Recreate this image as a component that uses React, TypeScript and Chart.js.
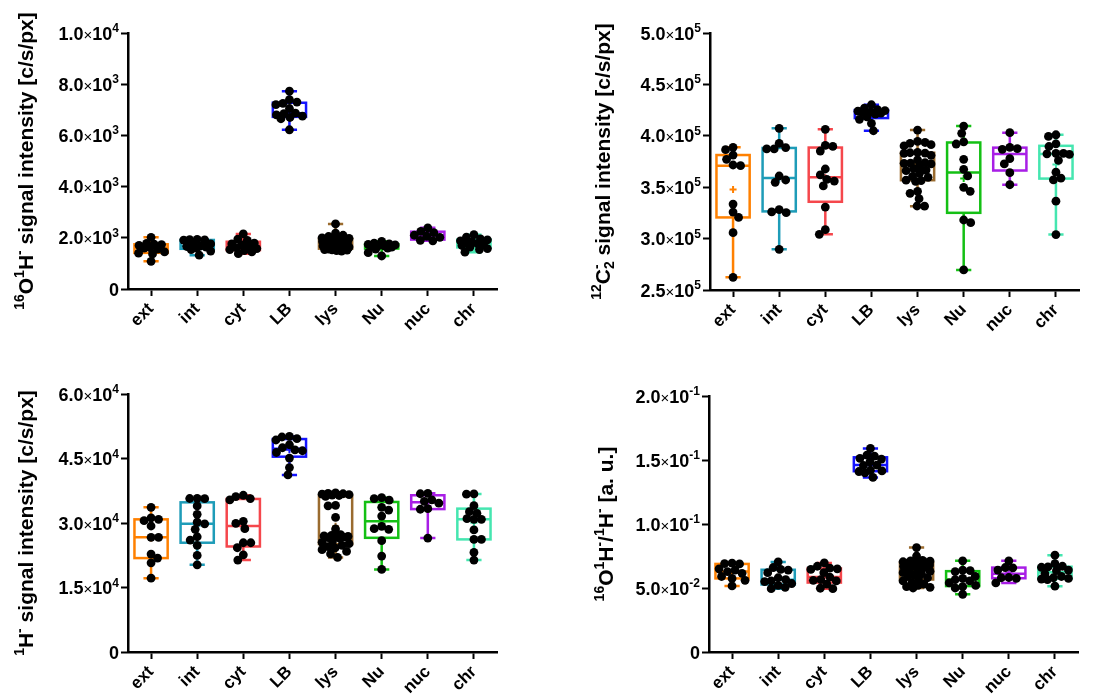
import { useEffect, useRef } from 'react';
import { Chart, registerables } from 'chart.js';

Chart.register(...registerables);

// Cell compartments shown on every panel
const CATEGORIES = ['ext', 'int', 'cyt', 'LB', 'lys', 'Nu', 'nuc', 'chr'];
const GROUP_COLORS = ['#FF8000', '#1E9CB8', '#F5474C', '#1414FF', '#9A6B2F', '#14C014', '#A81EE6', '#45E6B0'];

// 16O1H- signal intensity [c/s/px], one list per compartment
const OH_SIGNAL = [
  [2020, 1780, 1750, 1735, 1700, 1620, 1600, 1560, 1450, 1400, 1370, 1080],
  [1940, 1930, 1920, 1910, 1760, 1720, 1680, 1660, 1640, 1600, 1540, 1480, 1320],
  [2150, 1950, 1900, 1790, 1760, 1720, 1660, 1620, 1580, 1540, 1500, 1450, 1380],
  [7727, 7400, 7300, 7250, 7200, 7050, 6870, 6850, 6800, 6750, 6700, 6650, 6220],
  [2540, 2180, 2100, 2050, 2000, 1980, 1960, 1950, 1940, 1920, 1900, 1880, 1860, 1840, 1820,
   1800, 1780, 1760, 1720, 1680, 1640, 1600, 1580, 1560, 1550, 1540, 1530, 1520, 1500, 1480],
  [1860, 1790, 1760, 1740, 1720, 1700, 1680, 1660, 1640, 1600, 1560, 1420, 1290],
  [2390, 2250, 2200, 2100, 2060, 2020, 1900, 1880],
  [2120, 2030, 1960, 1920, 1880, 1840, 1800, 1770, 1740, 1700, 1640, 1580, 1540, 1440],
];

// 12C2- signal intensity [c/s/px]
const C2_SIGNAL = [
  [388800, 386500, 381300, 377100, 371600, 370900, 333600, 325800, 320600, 305800, 262300],
  [407300, 392700, 388500, 387200, 387200, 360900, 357000, 354700, 328100, 325900, 325200, 289600],
  [406300, 390700, 389700, 385200, 367700, 361900, 357700, 356000, 351200, 330700, 308700, 304200],
  [430200, 427000, 425500, 424500, 424000, 423000, 422500, 422000, 421000, 418500, 416000, 412000, 404900],
  [405600, 394600, 393500, 392700, 391400, 390100, 383800, 383500, 383200, 383000, 381000, 376500,
   374000, 373500, 373200, 372600, 370500, 368000, 366700, 366100, 363500, 360500, 359600, 356300,
   356800, 355700, 346000, 344000, 338800, 331700, 331500],
  [409500, 402400, 394000, 392000, 377100, 367400, 361000, 349900, 346000, 318100, 315500, 269500],
  [403000, 388800, 387500, 386800, 377700, 372600, 364100, 352400],
  [401000, 399400, 392200, 389600, 383000, 383000, 382500, 382000, 376000, 364600, 358800, 357100, 336400, 303900],
];

// 1H- signal intensity [c/s/px]
const H_SIGNAL = [
  [33650, 31200, 30850, 30540, 29300, 26660, 26660, 22770, 21840, 20750, 17180],
  [35750, 35700, 35650, 33960, 32020, 30200, 29800, 28520, 26800, 26030, 24800, 22460, 20280],
  [36450, 36140, 35670, 35360, 30390, 29900, 28680, 25410, 25410, 24250, 22600, 21370],
  [50130, 50000, 49600, 49300, 48200, 47500, 47000, 46800, 46400, 45100, 42900, 41190],
  [37000, 36900, 36800, 36700, 36600, 36500, 36400, 36200, 34100, 34000, 31300, 28600, 27300, 27100, 27000,
   26900, 26800, 26700, 26600, 26400, 25800, 25500, 25200, 24800, 24500, 24200, 23800, 23400, 22800, 22000],
  [35900, 35670, 35300, 33650, 33000, 31600, 29200, 28680, 28520, 25900, 22300, 19200],
  [36900, 36800, 35400, 35050, 34600, 33340, 33200, 26500],
  [36760, 36700, 34040, 32640, 32250, 31000, 30850, 30850, 28400, 26190, 26190, 23160, 21370],
];

// 16O1H- / 1H- ratio [a. u.]
const OH_H_RATIO = [
  [0.0695, 0.069, 0.0688, 0.065, 0.064, 0.0628, 0.0615, 0.059, 0.0575, 0.056, 0.0516],
  [0.0704, 0.066, 0.0645, 0.064, 0.062, 0.058, 0.0565, 0.0555, 0.055, 0.0535, 0.052, 0.0505, 0.0495],
  [0.0696, 0.067, 0.0655, 0.065, 0.0645, 0.062, 0.0585, 0.0565, 0.056, 0.0555, 0.053, 0.0498, 0.0495],
  [0.159, 0.1538, 0.153, 0.1512, 0.1507, 0.1486, 0.146, 0.1457, 0.142, 0.1415, 0.141, 0.14, 0.1364],
  [0.0816, 0.075, 0.0715, 0.0712, 0.071, 0.0705, 0.07, 0.0698, 0.0695, 0.069, 0.0685, 0.068, 0.067, 0.066, 0.065,
   0.064, 0.063, 0.062, 0.061, 0.06, 0.059, 0.058, 0.057, 0.0555, 0.054, 0.053, 0.052, 0.051, 0.0505, 0.05],
  [0.0712, 0.064, 0.0635, 0.0628, 0.059, 0.0575, 0.0566, 0.0555, 0.054, 0.052, 0.051, 0.05, 0.0451],
  [0.0712, 0.066, 0.0658, 0.064, 0.0582, 0.058, 0.0575, 0.054],
  [0.0756, 0.069, 0.067, 0.0665, 0.0662, 0.064, 0.0635, 0.061, 0.059, 0.058, 0.0575, 0.057, 0.0565, 0.0514],
];

// Y-axis tick values
const OH_TICKS = [0, 2000, 4000, 6000, 8000, 10000];
const C2_TICKS = [250000, 300000, 350000, 400000, 450000, 500000];
const H_TICKS = [0, 15000, 30000, 45000, 60000];
const RATIO_TICKS = [0, 0.05, 0.1, 0.15, 0.2];

const FONT_FAMILY = "'Liberation Sans', Arial, Helvetica, sans-serif";
const DOT_RADIUS = 4.4;
const BOX_HALF = 0.36; // box half-width, in category units
const CAP_HALF = 0.165; // whisker cap half-width, in category units
const SPREAD = 0.3; // max horizontal scatter of dots, in category units

// A piece of rich text: raised / lowered runs build super- and subscripts.
// "hold" keeps the pen in place so the next run stacks over this one.
type Run = { t: string; size: number; bold?: boolean; rise?: number; hold?: boolean };

const TITLE_SIZE = 21;
const TITLE_SUP = 14;
const sup = (t: string, hold = false): Run => ({ t, size: TITLE_SUP, bold: true, rise: 8.5, hold });
const sub = (t: string): Run => ({ t, size: TITLE_SUP, bold: true, rise: -4 });
const txt = (t: string): Run => ({ t, size: TITLE_SIZE, bold: true });

function fontOf(r: Run) {
  return `${r.bold ? 'bold ' : ''}${r.size}px ${FONT_FAMILY}`;
}

function runsWidth(ctx: CanvasRenderingContext2D, runs: Run[]) {
  let w = 0;
  for (const r of runs) {
    ctx.font = fontOf(r);
    if (!r.hold) w += ctx.measureText(r.t).width;
  }
  return w;
}

function drawRuns(ctx: CanvasRenderingContext2D, runs: Run[], x: number, baseline: number) {
  let pen = x;
  for (const r of runs) {
    ctx.font = fontOf(r);
    ctx.fillText(r.t, pen, baseline - (r.rise || 0));
    if (!r.hold) pen += ctx.measureText(r.t).width;
  }
}

// Tick label such as 1.0×10⁴, built as rich text
function tickRuns(v: number): Run[] {
  if (v === 0) return [{ t: '0', size: 18, bold: true }];
  const exp = Math.floor(Math.log10(Math.abs(v)) + 1e-9);
  const mant = v / Math.pow(10, exp);
  return [
    { t: mant.toFixed(1), size: 18, bold: true },
    { t: '×', size: 15 },
    { t: '10', size: 18, bold: true },
    { t: String(exp), size: 12, bold: true, rise: 7.5 },
  ];
}

// Quartile at fraction p using the (n+1)p position rule
function quantile(sorted: number[], p: number): number {
  const n = sorted.length;
  const pos = (n + 1) * p;
  if (pos <= 1) return sorted[0];
  if (pos >= n) return sorted[n - 1];
  const lo = Math.floor(pos);
  const f = pos - lo;
  return sorted[lo - 1] + f * (sorted[lo] - sorted[lo - 1]);
}

function summarize(values: number[]) {
  const s = [...values].sort((a, b) => a - b);
  return {
    min: s[0],
    q1: quantile(s, 0.25),
    median: quantile(s, 0.5),
    q3: quantile(s, 0.75),
    max: s[s.length - 1],
    mean: s.reduce((a, b) => a + b, 0) / s.length,
  };
}

type Frame = {
  left: number; top: number; width: number; height: number;
  areaLeft: number; areaRight: number; areaTop: number; areaBottom: number;
  titleCenter: number;
};

type PanelSpec = { title: Run[]; groups: number[][]; ticks: number[]; frame: Frame };

const PANELS: PanelSpec[] = [
  {
    title: [sup('16'), txt('O'), sup('1'), txt('H'), sup('-'), txt(' signal intensity [c/s/px]')],
    groups: OH_SIGNAL,
    ticks: OH_TICKS,
    frame: { left: 0, top: 0, width: 550, height: 348, areaLeft: 128, areaRight: 497, areaTop: 33, areaBottom: 289, titleCenter: 25 },
  },
  {
    title: [sup('12'), txt('C'), sup('-', true), sub('2'), txt(' signal intensity [c/s/px]')],
    groups: C2_SIGNAL,
    ticks: C2_TICKS,
    frame: { left: 550, top: 0, width: 550, height: 348, areaLeft: 160, areaRight: 529, areaTop: 33, areaBottom: 290, titleCenter: 52 },
  },
  {
    title: [sup('1'), txt('H'), sup('-'), txt(' signal intensity [c/s/px]')],
    groups: H_SIGNAL,
    ticks: H_TICKS,
    frame: { left: 0, top: 348, width: 550, height: 349, areaLeft: 128, areaRight: 497, areaTop: 46, areaBottom: 304, titleCenter: 25 },
  },
  {
    title: [sup('16'), txt('O'), sup('1'), txt('H'), sup('-'), txt('/'), sup('1'), txt('H'), sup('-'), txt(' [a. u.]')],
    groups: OH_H_RATIO,
    ticks: RATIO_TICKS,
    frame: { left: 550, top: 348, width: 550, height: 349, areaLeft: 159, areaRight: 528, areaTop: 48, areaBottom: 304, titleCenter: 55 },
  },
];

function BoxPanel({ spec }: { spec: PanelSpec }) {
  const ref = useRef<HTMLCanvasElement>(null);

  useEffect(() => {
    const canvas = ref.current;
    if (!canvas) return;
    const { groups, ticks, frame, title } = spec;
    const points = groups.flatMap((vals, g) => vals.map((v) => ({ x: g, y: v })));
    const stats = groups.map(summarize);

    const boxPlugin = {
      id: 'boxWhisker',
      // Spread the dots of each group sideways so they don't pile up
      afterDatasetsUpdate(chart: any) {
        const meta = chart.getDatasetMeta(0);
        const xs = chart.scales.x;
        const unit = xs.getPixelForValue(1) - xs.getPixelForValue(0);
        const maxOff = unit * SPREAD;
        const minDist = DOT_RADIUS * 2 * 0.85;
        const byGroup = new Map<number, any[]>();
        meta.data.forEach((el: any, i: number) => {
          const g = points[i].x;
          if (!byGroup.has(g)) byGroup.set(g, []);
          byGroup.get(g)!.push(el);
        });
        byGroup.forEach((els, g) => {
          const cx = xs.getPixelForValue(g);
          const ordered = [...els].sort((a, b) => a.y - b.y);
          const placed: { x: number; y: number }[] = [];
          ordered.forEach((el, k) => {
            let best = 0;
            let bestScore = Infinity;
            const signs = k % 2 === 0 ? [1, -1] : [-1, 1];
            for (let off = 0; off <= maxOff; off += 0.5) {
              for (const s of off === 0 ? [1] : signs) {
                const x = s * off;
                let overlap = 0;
                for (const p of placed) {
                  const d = Math.hypot(p.x - x, p.y - el.y);
                  if (d < minDist) overlap = Math.max(overlap, minDist - d);
                }
                if (overlap < bestScore - 1e-6) {
                  bestScore = overlap;
                  best = x;
                }
              }
              if (bestScore === 0) break;
            }
            placed.push({ x: best, y: el.y });
            el.x = cx + best;
          });
        });
      },
      // Boxes, whiskers, medians and means underneath the dots
      beforeDatasetsDraw(chart: any) {
        const { ctx } = chart;
        const xs = chart.scales.x;
        const ys = chart.scales.y;
        const unit = xs.getPixelForValue(1) - xs.getPixelForValue(0);
        const hw = unit * BOX_HALF;
        const cw = unit * CAP_HALF;
        stats.forEach((s, g) => {
          const cx = xs.getPixelForValue(g);
          const yMin = ys.getPixelForValue(s.min);
          const yQ1 = ys.getPixelForValue(s.q1);
          const yMed = ys.getPixelForValue(s.median);
          const yQ3 = ys.getPixelForValue(s.q3);
          const yMax = ys.getPixelForValue(s.max);
          const yMean = ys.getPixelForValue(s.mean);
          ctx.save();
          ctx.strokeStyle = GROUP_COLORS[g];
          ctx.lineWidth = 2.5;
          ctx.beginPath();
          ctx.moveTo(cx, yQ3);
          ctx.lineTo(cx, yMax);
          ctx.moveTo(cx - cw, yMax);
          ctx.lineTo(cx + cw, yMax);
          ctx.moveTo(cx, yQ1);
          ctx.lineTo(cx, yMin);
          ctx.moveTo(cx - cw, yMin);
          ctx.lineTo(cx + cw, yMin);
          ctx.moveTo(cx - hw, yMed);
          ctx.lineTo(cx + hw, yMed);
          ctx.stroke();
          ctx.strokeRect(cx - hw, yQ3, hw * 2, yQ1 - yQ3);
          ctx.lineWidth = 2;
          const m = 3.5;
          ctx.beginPath();
          ctx.moveTo(cx - m, yMean);
          ctx.lineTo(cx + m, yMean);
          ctx.moveTo(cx, yMean - m);
          ctx.lineTo(cx, yMean + m);
          ctx.stroke();
          ctx.restore();
        });
      },
      // Y tick labels with raised exponents, and the rotated axis title
      afterDraw(chart: any) {
        const { ctx, chartArea } = chart;
        const ys = chart.scales.y;
        ctx.save();
        ctx.fillStyle = '#000';
        ctx.textBaseline = 'alphabetic';
        ctx.textAlign = 'left';
        for (const v of ticks) {
          const runs = tickRuns(v);
          const w = runsWidth(ctx, runs);
          const y = ys.getPixelForValue(v);
          drawRuns(ctx, runs, chartArea.left - 9 - w, y + 6.5);
        }
        const tw = runsWidth(ctx, title);
        const midY = (chartArea.top + chartArea.bottom) / 2;
        ctx.translate(frame.titleCenter, midY);
        ctx.rotate(-Math.PI / 2);
        drawRuns(ctx, title, -tw / 2, 7.5);
        ctx.restore();
      },
    };

    const tickFont = { family: FONT_FAMILY, size: 17, weight: 'bold' as const };
    const axisGrid = {
      drawOnChartArea: false,
      drawTicks: true,
      tickLength: 7,
      tickWidth: 2,
      tickColor: '#000',
    };

    const chart = new Chart(canvas, {
      type: 'scatter',
      data: {
        datasets: [
          {
            data: points,
            pointRadius: DOT_RADIUS,
            pointHoverRadius: DOT_RADIUS,
            pointBackgroundColor: '#000',
            pointBorderWidth: 0,
          },
        ],
      },
      options: {
        responsive: false,
        animation: false,
        events: [],
        devicePixelRatio: 1,
        layout: {
          padding: {
            left: 0,
            top: frame.areaTop,
            right: frame.width - frame.areaRight,
            bottom: 0,
          },
        },
        plugins: {
          legend: { display: false },
          tooltip: { enabled: false },
        },
        scales: {
          x: {
            type: 'linear',
            min: -0.5,
            max: CATEGORIES.length - 0.5,
            afterBuildTicks: (s: any) => {
              s.ticks = CATEGORIES.map((_, i) => ({ value: i }));
            },
            afterFit: (s: any) => {
              s.height = frame.height - frame.areaBottom;
            },
            border: { display: true, color: '#000', width: 2.5 },
            grid: axisGrid,
            ticks: {
              autoSkip: false,
              maxRotation: 45,
              minRotation: 45,
              padding: 3,
              color: '#000',
              font: tickFont,
              callback: (v: any) => CATEGORIES[Number(v)] ?? '',
            },
          },
          y: {
            type: 'linear',
            min: ticks[0],
            max: ticks[ticks.length - 1],
            afterBuildTicks: (s: any) => {
              s.ticks = ticks.map((v) => ({ value: v }));
            },
            afterFit: (s: any) => {
              s.width = frame.areaLeft;
            },
            border: { display: true, color: '#000', width: 2.5 },
            grid: axisGrid,
            ticks: {
              padding: 3,
              color: '#000',
              font: tickFont,
              callback: () => '',
            },
            title: { display: false },
          },
        },
      },
      plugins: [boxPlugin],
    } as any);

    return () => chart.destroy();
  }, [spec]);

  const f = spec.frame;
  return (
    <canvas
      ref={ref}
      width={f.width}
      height={f.height}
      style={{ position: 'absolute', left: f.left, top: f.top, width: f.width, height: f.height }}
    />
  );
}

export default function App() {
  return (
    <div
      style={{
        position: 'absolute',
        left: 0,
        top: 0,
        width: 1100,
        height: 697,
        background: '#fff',
        overflow: 'hidden',
      }}
    >
      {PANELS.map((p, i) => (
        <BoxPanel key={i} spec={p} />
      ))}
    </div>
  );
}
